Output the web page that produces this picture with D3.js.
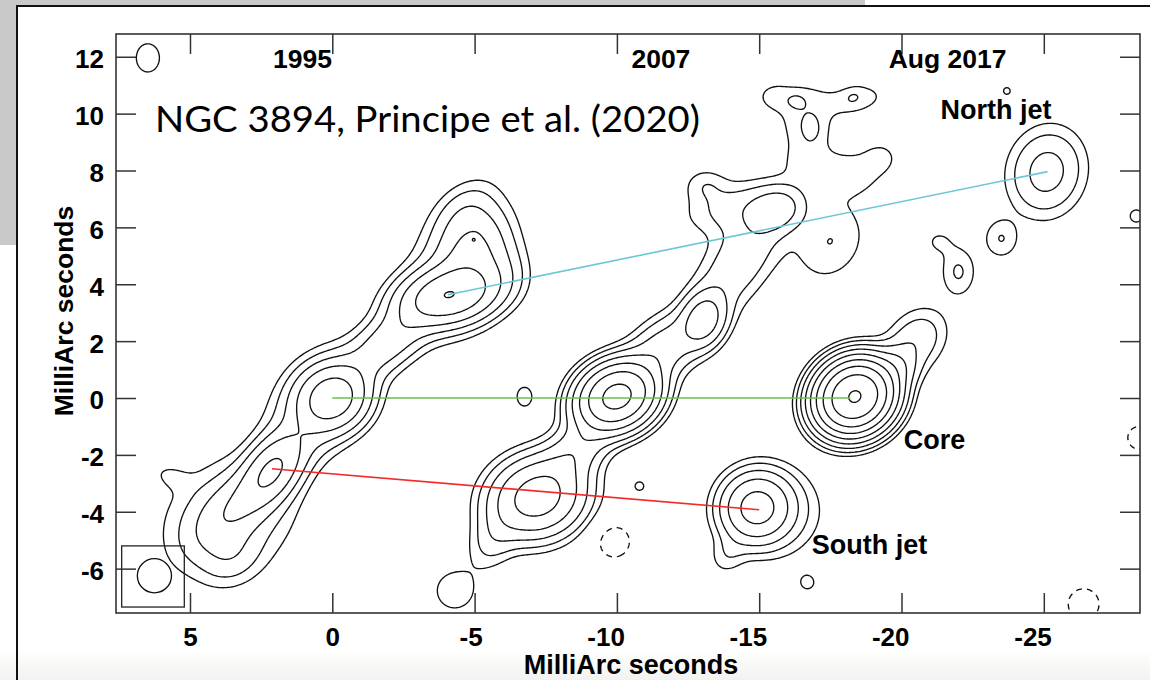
<!DOCTYPE html>
<html><head><meta charset="utf-8">
<script src="https://cdn.jsdelivr.net/npm/d3@7"></script>
<style>body{margin:0;background:#fff}svg{display:block}</style>
</head><body>
<svg id="c" width="1150" height="680"></svg>
<script>
// ---------------- data ----------------
const xTicks = [5, 0, -5, -10, -15, -20, -25];
const yTicks = [12, 10, 8, 6, 4, 2, 0, -2, -4, -6];
const contourLevels = [1, 2, 4, 8, 16, 32, 64, 128, 256];
const negativeLevels = [1];           // drawn dashed, i.e. level -1
const epochNames = ["1995", "2007", "Aug 2017"];
const featureNames = ["North jet", "Core", "South jet"];
const titleText = "NGC 3894, Principe et al. (2020)";

// Gaussian brightness components: [x mas, y mas, peak, sigmaMajor, sigmaMinor, angle deg]
const epoch1995 = [
  [0.0, 0.0, 22, 0.72, 0.64, 25],
  [0.5, -0.2, 3.5, 1.4, 0.9, 50],
  [-4.1, 3.6, 26, 1.0, 0.56, 12],
  [-4.06, 3.63, 2, 0.2, 0.12, 10],
  [-4.9, 5.1, 7, 1.05, 0.72, 80],
  [-4.97, 5.57, 8, 0.1, 0.1, 0],
  [-4.4, 4.5, 3.5, 1.5, 1.0, 60],
  [-2.0, 2.0, 6, 1.2, 0.55, 40],
  [0.9, -1.2, 2.2, 0.9, 0.6, 50],
  [2.1, -2.5, 14, 0.8, 0.5, 55],
  [3.1, -3.6, 5.5, 1.3, 0.55, 42],
  [3.6, -4.2, 3.5, 1.5, 1.2, 30],
  [3.6, -5.6, 2, 0.7, 0.6, 30],
  [5.7, -2.75, 0.9, 0.5, 0.3, 160],
  [-4.6, 6.7, 1.2, 0.8, 0.5, 40],
  [-6.0, 4.5, 1.5, 0.7, 0.6, 90]
];
const epoch2007 = [
  [-10.0, 0.05, 80, 0.75, 0.6, 25],
  [-7.2, -3.5, 22, 0.95, 0.78, 18],
  [-8.6, -1.8, 6, 1.0, 0.55, 45],
  [-5.7, -4.9, 2.5, 0.8, 0.5, 60],
  [-13.06, 2.75, 11, 0.6, 0.45, 70],
  [-11.6, 1.7, 6, 1.0, 0.6, 40],
  [-14.3, 4.8, 3.5, 1.6, 0.7, 55],
  [-15.6, 6.6, 5, 0.6, 0.45, 20],
  [-14.2, 6.7, 2.5, 1.2, 0.6, 10],
  [-13.1, 7.5, 1.5, 0.5, 0.4, 0],
  [-17.5, 5.5, 2.0, 1.0, 0.8, 60],
  [-16.7, 8.3, 1.0, 0.6, 0.5, 0],
  [-18.2, 7.9, 1.5, 0.9, 0.6, 0],
  [-16.6, 9.9, 1.6, 0.9, 0.65, 80],
  [-15.5, 10.6, 1.2, 0.5, 0.4, 0],
  [-18.4, 10.5, 1.5, 0.8, 0.4, 10],
  [-19.3, 8.5, 1.0, 0.45, 0.4, 0],
  [-16.3, 10.45, 0.95, 0.25, 0.2, 0],
  [-16.9, 9.4, 1.0, 0.4, 0.35, 90],
  [-18.3, 10.6, 0.65, 0.25, 0.2, 30]
];
const epoch2017 = [
  [-18.36, 0.05, 270, 0.68, 0.6, 35],
  [-19.85, 1.1, 5, 0.45, 0.45, 0],
  [-20.5, 2.0, 3.5, 0.8, 0.6, 50],
  [-14.9, -3.85, 20, 0.7, 0.68, 30],
  [-15.6, -4.0, 2.5, 1.05, 1.0, 0],
  [-13.9, -5.5, 1.5, 0.5, 0.4, 60],
  [-25.1, 7.95, 5.2, 0.95, 0.8, 75]
];
const faintPatches = [
  [6.48, 11.96, 1.5, 0.55, 0.45, 90],
  [-6.75, 0.05, 1.3, 0.45, 0.35, 90],
  [-10.8, -3.1, 1.06, 0.4, 0.4, 0],
  [-4.3, -6.78, 1.8, 0.56, 0.55, 0],
  [-16.7, -6.5, 1.1, 0.4, 0.4, 0],
  [-23.7, 10.8, 1.05, 0.35, 0.35, 0],
  [-28.25, 6.4, 1.15, 0.4, 0.4, 0],
  [-21.3, 5.5, 1.1, 0.4, 0.35, 0],
  [-23.5, 5.6, 2.0, 0.48, 0.42, 90],
  [-22.0, 4.44, 2.15, 0.6, 0.42, 90],
  [-9.9, -5.05, -1.5, 0.6, 0.6, 0],
  [-26.4, -7.25, -1.5, 0.6, 0.6, 0],
  [-28.35, -1.4, -1.3, 0.55, 0.55, 0]
];
// component tracks between epochs: [x, y] start and end (mas)
const northTrack = [[-4.06, 3.63], [-25.13, 7.96]];
const coreTrack = [[0.0, 0.0], [-18.2, 0.0]];
const southTrack = [[2.12, -2.49], [-15.0, -3.93]];
// restoring beam: centre x, y and radius (mas)
const beam = [6.25, -6.25, 0.6];

// ---------------- drawing ----------------
const svg = d3.select("#c");
const L = 116, R = 1140, T = 34, B = 613;
const x = d3.scaleLinear().domain([7.6, -28.38]).range([L, R]);
const y = d3.scaleLinear().domain([-7.56, 12.8]).range([B, T]);
const FONT = "'Liberation Sans', Arial, Helvetica, sans-serif";

// slide background
svg.append("rect").attr("x", 0).attr("y", 0).attr("width", 1150).attr("height", 680).attr("fill", "#fff");
svg.append("rect").attr("x", 0).attr("y", 0).attr("width", 865).attr("height", 6).attr("fill", "#c9c9c9");
svg.append("rect").attr("x", 0).attr("y", 0).attr("width", 17).attr("height", 245).attr("fill", "#c9c9c9");
const grad = svg.append("defs").append("linearGradient").attr("id", "bg").attr("x1", 0).attr("x2", 0).attr("y1", 0).attr("y2", 1);
grad.append("stop").attr("offset", 0).attr("stop-color", "#ffffff");
grad.append("stop").attr("offset", 1).attr("stop-color", "#f2f2f0");
svg.append("rect").attr("x", 0).attr("y", 650).attr("width", 1150).attr("height", 30).attr("fill", "url(#bg)");
svg.append("line").attr("x1", 17).attr("x2", 1150).attr("y1", 6).attr("y2", 6).attr("stroke", "#111").attr("stroke-width", 2);
svg.append("line").attr("x1", 17).attr("x2", 17).attr("y1", 5).attr("y2", 680).attr("stroke", "#111").attr("stroke-width", 2);

svg.append("defs").append("clipPath").attr("id", "clip")
  .append("rect").attr("x", L).attr("y", T).attr("width", R - L).attr("height", B - T);

// brightness grid
const step = 0.05, gx0 = 8.3, gy0 = 13.5;
const nx = Math.round((gx0 + 29.1) / step) + 1, ny = Math.round((gy0 + 8.3) / step) + 1;
const vals = new Float64Array(nx * ny);
const comps = [...epoch1995, ...epoch2007, ...epoch2017, ...faintPatches];
for (const [cx, cy, amp, sa, sb, th] of comps) {
  const t = th * Math.PI / 180, ct = Math.cos(t), st = Math.sin(t);
  const Rr = 5 * Math.max(sa, sb);
  const i0 = Math.max(0, Math.floor((gx0 - cx - Rr) / step)), i1 = Math.min(nx - 1, Math.ceil((gx0 - cx + Rr) / step));
  const j0 = Math.max(0, Math.floor((gy0 - cy - Rr) / step)), j1 = Math.min(ny - 1, Math.ceil((gy0 - cy + Rr) / step));
  for (let j = j0; j <= j1; j++) {
    const dv = (gy0 - j * step) - cy;
    for (let i = i0; i <= i1; i++) {
      const du = cx - (gx0 - i * step);
      const a = du * ct + dv * st, b = -du * st + dv * ct;
      vals[j * nx + i] += amp * Math.exp(-0.5 * (a * a / (sa * sa) + b * b / (sb * sb)));
    }
  }
}
const proj = d3.geoTransform({
  point: function (px, py) {
    this.stream.point(x(gx0 - (px - 0.5) * step), y(gy0 - (py - 0.5) * step));
  }
});
const path = d3.geoPath(proj);
const cg = svg.append("g").attr("clip-path", "url(#clip)");
const pos = d3.contours().size([nx, ny]).thresholds(contourLevels)(vals);
cg.selectAll("path.pos").data(pos).join("path").attr("class", "pos")
  .attr("d", path).attr("fill", "none").attr("stroke", "#111").attr("stroke-width", 1.35).attr("stroke-linejoin", "round");
const negVals = vals.map(v => -v);
const neg = d3.contours().size([nx, ny]).thresholds(negativeLevels)(negVals);
cg.selectAll("path.neg").data(neg).join("path").attr("class", "neg")
  .attr("d", path).attr("fill", "none").attr("stroke", "#111").attr("stroke-width", 1.35).attr("stroke-dasharray", "6,5");

// tracks
const line = d3.line().x(d => x(d[0])).y(d => y(d[1]));
svg.append("path").attr("d", line(northTrack)).attr("stroke", "#6cc6d6").attr("stroke-width", 1.6).attr("fill", "none");
svg.append("path").attr("d", line(coreTrack)).attr("stroke", "#6bbf4e").attr("stroke-width", 1.6).attr("fill", "none");
svg.append("path").attr("d", line(southTrack)).attr("stroke", "#f42a2a").attr("stroke-width", 1.6).attr("fill", "none");

// beam box
svg.append("rect").attr("x", x(7.4)).attr("y", y(-5.2)).attr("width", x(5.2) - x(7.4)).attr("height", y(-7.35) - y(-5.2))
  .attr("fill", "none").attr("stroke", "#222").attr("stroke-width", 1.3);
svg.append("ellipse").attr("cx", x(beam[0])).attr("cy", y(beam[1]))
  .attr("rx", x(beam[0] - beam[2]) - x(beam[0])).attr("ry", y(beam[1] - beam[2]) - y(beam[1]))
  .attr("fill", "none").attr("stroke", "#111").attr("stroke-width", 1.35);

// axes
function styleAxis(g) {
  g.select(".domain").remove();
  g.selectAll(".tick line").attr("stroke", "#333").attr("stroke-width", 1.5);
  g.selectAll("text").attr("fill", "#000").style("font-family", FONT).style("font-weight", "bold").style("font-size", "26px");
}
const ax = svg.append("g").attr("transform", `translate(0,${B})`)
  .call(d3.axisBottom(x).tickValues(xTicks).tickSize(-20).tickPadding(15).tickFormat(d => d < 0 ? "-" + Math.abs(d) : d)).call(styleAxis);
ax.selectAll("text").attr("text-anchor", "end").attr("dx", "7.5");
ax.selectAll("text").filter(d => Math.abs(d) < 10 && d >= 0).attr("text-anchor", "middle").attr("dx", 0);
svg.append("g").attr("transform", `translate(0,${T})`)
  .call(d3.axisTop(x).tickValues(xTicks).tickSize(-20).tickFormat("")).call(styleAxis);
const ay = svg.append("g").attr("transform", `translate(${L},0)`)
  .call(d3.axisLeft(y).tickValues(yTicks).tickSize(-20).tickPadding(12).tickFormat(d => d < 0 ? "-" + Math.abs(d) : d)).call(styleAxis);
ay.selectAll("text").attr("dy", "0.42em");
svg.append("g").attr("transform", `translate(${R},0)`)
  .call(d3.axisRight(y).tickValues(yTicks).tickSize(-20).tickFormat("")).call(styleAxis);
svg.append("rect").attr("x", L).attr("y", T).attr("width", R - L).attr("height", B - T)
  .attr("fill", "none").attr("stroke", "#333").attr("stroke-width", 1.6);

// labels
svg.append("text").attr("x", (L + R) / 2 + 3).attr("y", 674).attr("text-anchor", "middle")
  .style("font-family", FONT).style("font-weight", "bold").style("font-size", "27px").text("MilliArc seconds");
svg.append("text").attr("transform", "translate(73,311) rotate(-90)").attr("text-anchor", "middle")
  .style("font-family", FONT).style("font-weight", "bold").style("font-size", "26.5px").text("MilliArc seconds");

const epochPos = [[2.08, 11.59], [-10.51, 11.59], [-19.55, 11.62]];
epochNames.forEach((s, i) => svg.append("text").attr("x", x(epochPos[i][0])).attr("y", y(epochPos[i][1]))
  .style("font-family", FONT).style("font-weight", "bold").style("font-size", "26.5px").text(s));
const featPos = [[-21.37, 9.82], [-20.08, -1.78], [-16.85, -5.5]];
featureNames.forEach((s, i) => svg.append("text").attr("x", x(featPos[i][0])).attr("y", y(featPos[i][1]))
  .style("font-family", FONT).style("font-weight", "bold").style("font-size", "27px").text(s));

svg.append("text").attr("x", 155).attr("y", 131.5).attr("textLength", 545).attr("lengthAdjust", "spacingAndGlyphs")
  .style("font-family", "Lato, 'Open Sans', sans-serif").style("font-size", "37.5px").attr("fill", "#000").text(titleText);
</script>
</body></html>
